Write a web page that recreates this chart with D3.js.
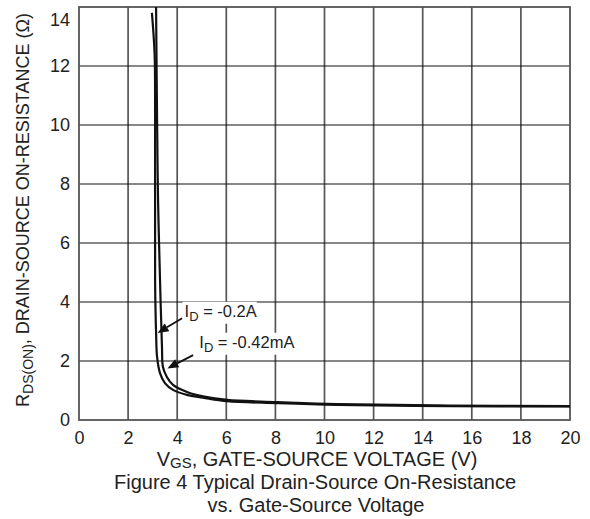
<!DOCTYPE html>
<html>
<head>
<meta charset="utf-8">
<script src="https://cdn.jsdelivr.net/npm/d3@7"></script>
<style>
  html, body { margin: 0; padding: 0; background: #fff; }
  svg { display: block; font-family: "Liberation Sans", Arial, sans-serif; }
</style>
</head>
<body>
<svg id="chart" width="590" height="519"></svg>
<script>
// Gate-source voltage (V) and on-resistance (ohm) for the two drain currents
const vgsA = [2.97, 3.08, 3.10, 3.10, 3.12, 3.14, 3.18, 3.30, 3.50, 3.83, 4.40, 5.05, 6.03, 8.07, 10.5, 15.1, 20];
const rdsA = [13.8, 12.4, 10.2, 4.75, 3.6, 2.95, 2.14, 1.59, 1.25, 1.02, 0.85, 0.76, 0.64, 0.57, 0.51, 0.47, 0.46];
const vgsB = [3.14, 3.18, 3.22, 3.30, 3.38, 3.42, 3.58, 3.83, 4.40, 5.05, 6.03, 8.07, 10.5, 15.1, 20];
const rdsB = [14.0, 10.2, 7.46, 4.75, 2.47, 1.80, 1.46, 1.19, 0.95, 0.80, 0.68, 0.61, 0.54, 0.49, 0.47];

const xTicks = [0, 2, 4, 6, 8, 10, 12, 14, 16, 18, 20];
const yTicks = [0, 2, 4, 6, 8, 10, 12, 14];

const labelA = { text: "-0.2A", tip: [3.2, 2.95], tail: [4.2, 3.45], at: [4.3, 3.5] };
const labelB = { text: "-0.42mA", tip: [3.6, 1.75], tail: [4.65, 2.2], at: [4.9, 2.45] };

const svg = d3.select("#chart");
const m = { left: 79, top: 7, right: 570, bottom: 420 };

const x = d3.scaleLinear().domain([0, 20]).range([m.left, m.right]);
const y = d3.scaleLinear().domain([0, 14]).range([m.bottom, m.top]);

const ink = "#222";

// grid
svg.append("g").selectAll("line").data(xTicks.slice(1, -1)).join("line")
  .attr("x1", d => x(d)).attr("x2", d => x(d))
  .attr("y1", m.top).attr("y2", m.bottom)
  .attr("stroke", "#555").attr("stroke-width", 1.7);
svg.append("g").selectAll("line").data(yTicks.slice(1, -1)).join("line")
  .attr("x1", m.left).attr("x2", m.right)
  .attr("y1", d => y(d)).attr("y2", d => y(d))
  .attr("stroke", "#111").attr("stroke-width", 1.2);

// frame
svg.append("rect")
  .attr("x", m.left).attr("y", m.top)
  .attr("width", m.right - m.left).attr("height", m.bottom - m.top)
  .attr("fill", "none").attr("stroke", "#555").attr("stroke-width", 1.8);

// axes (labels only)
const xAxis = svg.append("g").attr("transform", `translate(0,${m.bottom})`)
  .call(d3.axisBottom(x).tickValues(xTicks).tickSize(0).tickPadding(11));
const yAxis = svg.append("g").attr("transform", `translate(${m.left},0)`)
  .call(d3.axisLeft(y).tickValues(yTicks).tickSize(0).tickPadding(9));
[xAxis, yAxis].forEach(g => {
  g.select(".domain").remove();
  g.selectAll("text").attr("font-size", 18).attr("fill", ink)
    .attr("font-family", "'Liberation Sans', Arial, sans-serif");
});
// keep the top label inside the page
yAxis.selectAll(".tick").filter(d => d === 14).select("text").attr("dy", "1.05em");

// curves
const line = d3.line().x(d => x(d[0])).y(d => y(d[1])).curve(d3.curveCatmullRom.alpha(0.5));
const plot = svg.append("g");
[[vgsA, rdsA], [vgsB, rdsB]].forEach(([vs, rs]) => {
  plot.append("path")
    .attr("d", line(vs.map((v, i) => [v, rs[i]])))
    .attr("fill", "none").attr("stroke", "#111").attr("stroke-width", 2.2);
});

// annotations
function annotate(a) {
  const g = svg.append("g");
  const bg = g.append("rect").attr("fill", "#fff");
  const t = g.append("text")
    .attr("x", x(a.at[0])).attr("y", y(a.at[1]))
    .attr("font-size", 16.5).attr("fill", ink);
  t.append("tspan").text("I");
  t.append("tspan").attr("dy", 4).attr("font-size", 13).text("D");
  t.append("tspan").attr("dy", -4).text(" = " + a.text);
  const bb = t.node().getBBox();
  bg.attr("x", bb.x - 2).attr("y", bb.y).attr("width", bb.width + 2).attr("height", bb.height);

  const x0 = x(a.tail[0]), y0 = y(a.tail[1]), x1 = x(a.tip[0]), y1 = y(a.tip[1]);
  const ang = Math.atan2(y1 - y0, x1 - x0);
  const L = 11, W = 4.5;
  const bx = x1 - L * Math.cos(ang), by = y1 - L * Math.sin(ang);
  g.append("line").attr("x1", x0).attr("y1", y0).attr("x2", bx).attr("y2", by)
    .attr("stroke", "#111").attr("stroke-width", 1.8);
  g.append("path")
    .attr("d", `M${x1},${y1}L${bx - W * Math.sin(ang)},${by + W * Math.cos(ang)}L${bx + W * Math.sin(ang)},${by - W * Math.cos(ang)}Z`)
    .attr("fill", "#111");
}
annotate(labelA);
annotate(labelB);

// axis titles
const xt = svg.append("text").attr("x", 317).attr("y", 466)
  .attr("text-anchor", "middle").attr("font-size", 20).attr("fill", ink);
xt.append("tspan").text("V");
xt.append("tspan").attr("dy", 1.5).attr("font-size", 15).text("GS");
xt.append("tspan").attr("dy", -1.5).text(", GATE-SOURCE VOLTAGE (V)");

svg.append("text").attr("x", 315).attr("y", 489)
  .attr("text-anchor", "middle").attr("font-size", 20).attr("fill", ink)
  .text("Figure 4 Typical Drain-Source On-Resistance");
svg.append("text").attr("x", 316).attr("y", 511.5)
  .attr("text-anchor", "middle").attr("font-size", 20).attr("fill", ink)
  .text("vs. Gate-Source Voltage");

const yt = svg.append("text")
  .attr("transform", "translate(29,210) rotate(-90)")
  .attr("text-anchor", "middle").attr("font-size", 18).attr("fill", ink);
yt.append("tspan").text("R");
yt.append("tspan").attr("dy", 4).attr("font-size", 14).text("DS(ON)");
yt.append("tspan").attr("dy", -4).text(", DRAIN-SOURCE ON-RESISTANCE (Ω)");
</script>
</body>
</html>
